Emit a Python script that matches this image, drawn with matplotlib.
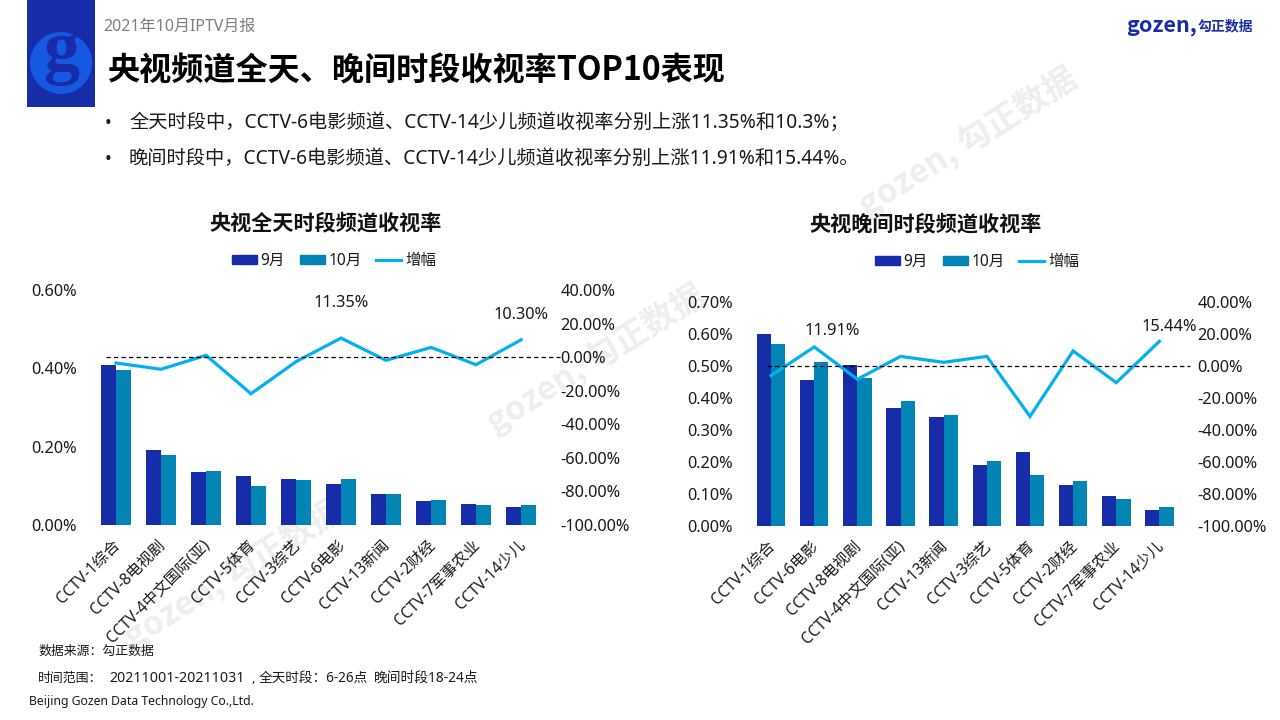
import numpy as np
import matplotlib
matplotlib.use("Agg")
import matplotlib.pyplot as plt
from matplotlib.patches import Circle, Patch
from matplotlib.lines import Line2D
from matplotlib.transforms import ScaledTranslation

plt.rcParams['font.family'] = ['Noto Sans', 'Noto Sans CJK SC', 'DejaVu Sans']
BOLD = ['Noto Sans CJK SC', 'DejaVu Sans']  # Noto Sans here has no bold face

W, H = 1280, 720
NAVY = '#172ca8'; TEAL = '#0285b5'; SKY = '#00b0f0'; TXT = '#1a1a1a'

# ---- all-day panel data
cats_day = ['CCTV-1综合', 'CCTV-8电视剧', 'CCTV-4中文国际(亚)', 'CCTV-5体育', 'CCTV-3综艺',
            'CCTV-6电影', 'CCTV-13新闻', 'CCTV-2财经', 'CCTV-7军事农业', 'CCTV-14少儿']
sep_day = [0.4085, 0.1915, 0.135, 0.125, 0.1175, 0.105, 0.079, 0.061, 0.0536, 0.046]
oct_day = [0.396, 0.179, 0.138, 0.0996, 0.115, 0.117, 0.079, 0.064, 0.051, 0.051]
chg_day = [-3.5, -7.2, 1.1, -21.8, -2.7, 11.35, -1.9, 5.8, -4.5, 10.30]

# ---- evening panel data
cats_eve = ['CCTV-1综合', 'CCTV-6电影', 'CCTV-8电视剧', 'CCTV-4中文国际(亚)', 'CCTV-13新闻',
            'CCTV-3综艺', 'CCTV-5体育', 'CCTV-2财经', 'CCTV-7军事农业', 'CCTV-14少儿']
sep_eve = [0.60, 0.456, 0.503, 0.369, 0.34, 0.19, 0.231, 0.128, 0.094, 0.05]
oct_eve = [0.569, 0.5125, 0.4625, 0.39, 0.347, 0.203, 0.159, 0.14, 0.084, 0.059]
chg_eve = [-6.0, 11.91, -8.3, 6.0, 2.3, 6.0, -31.5, 9.4, -10.4, 15.44]

ticks_day = [0, 0.2, 0.4, 0.6]
ticks_eve = [0, 0.1, 0.2, 0.3, 0.4, 0.5, 0.6, 0.7]
ticks_chg = [-100, -80, -60, -40, -20, 0, 20, 40]

bullet_1 = '全天时段中，CCTV-6电影频道、CCTV-14少儿频道收视率分别上涨11.35%和10.3%；'
bullet_2 = '晚间时段中，CCTV-6电影频道、CCTV-14少儿频道收视率分别上涨11.91%和15.44%。'

fig = plt.figure(figsize=(12.8, 7.2), dpi=100, facecolor='white')


def px_text(x, y, s, **kw):
    # pixel coords measured from the top left of the slide
    kw.setdefault('va', 'center')
    kw.setdefault('color', TXT)
    return fig.text(x / W, 1 - y / H, s, **kw)


# ---- watermarks sit underneath everything
for wx, wy in [(128, 640), (490, 425), (862, 208)]:
    px_text(wx, wy, 'gozen, 勾正数据', fontsize=24, fontweight='bold', family=BOLD, color='#eeeeee',
            rotation=32, rotation_mode='anchor', ha='left', va='center', zorder=-5)


def draw_panel(rect, cats, sep, oct_, chg, yticks, ymax, dash_x, labels, title_xy, legend_xy):
    left, top, right, bottom = rect
    ax = fig.add_axes([left / W, 1 - bottom / H, (right - left) / W, (bottom - top) / H])
    ax.patch.set_alpha(0)
    x = np.arange(len(cats))
    bw = 0.33
    ax.bar(x - bw / 2, sep, bw, color=NAVY)
    ax.bar(x + bw / 2, oct_, bw, color=TEAL)
    ax.set_xlim(-0.5, len(cats) - 0.5)
    ax.set_ylim(0, ymax)
    ax.set_yticks(yticks)
    ax.set_yticklabels([f'{t:.2f}%' for t in yticks], fontsize=11.8, color=TXT)
    ax.set_xticks(x)
    ax.set_xticklabels(cats, rotation=45, ha='right', rotation_mode='anchor', fontsize=11.2, color=TXT)
    ax.tick_params(axis='y', length=0, pad=12)
    ax.tick_params(axis='x', length=0, pad=5)
    # nudge the slanted labels a few pixels down and left
    nudge = ScaledTranslation(-4 / 100, -5 / 100, fig.dpi_scale_trans)
    for lab in ax.get_xticklabels():
        lab.set_transform(lab.get_transform() + nudge)
    for s in ax.spines.values():
        s.set_visible(False)

    ax2 = ax.twinx()
    ax2.patch.set_alpha(0)
    ax2.plot(x, chg, color=SKY, lw=2.3, solid_joinstyle='miter')
    ax2.hlines(0, dash_x[0], dash_x[1], colors='black', linestyles=(0, (3.5, 2.5)), lw=0.9, clip_on=False)
    ax2.set_ylim(-100, 40)
    ax2.set_yticks(ticks_chg)
    ax2.set_yticklabels([f'{t:.2f}%' for t in ticks_chg], fontsize=11.8, color=TXT)
    ax2.tick_params(axis='y', length=0, pad=12)
    for s in ax2.spines.values():
        s.set_visible(False)

    for i, dx, dy in labels:
        ax2.annotate(f'{chg[i]:.2f}%', (x[i], chg[i]), xytext=(dx, dy), textcoords='offset pixels',
                     ha='center', va='center', fontsize=11.8, color=TXT, annotation_clip=False)

    px_text(title_xy[0], title_xy[1], title_xy[2], fontsize=15.2, fontweight='bold', family=BOLD,
            ha='center', color='#111111')
    handles = [Patch(color=NAVY, label='9月'), Patch(color=TEAL, label='10月'),
               Line2D([], [], color=SKY, lw=2.3, label='增幅')]
    fig.legend(handles=handles, loc='center', bbox_to_anchor=(legend_xy[0] / W, 1 - legend_xy[1] / H),
               ncol=3, frameon=False, fontsize=11.2, handlelength=1.6, handleheight=0.6,
               handletextpad=0.25, columnspacing=0.95, labelcolor=TXT)


draw_panel((93.5, 290, 543.5, 525), cats_day, sep_day, oct_day, chg_day, ticks_day, 0.6,
           (-0.22, 9.87), [(5, 0, 35), (9, 0, 25)], (326, 223, '央视全天时段频道收视率'), (334, 261))
draw_panel((749.5, 302, 1181, 526), cats_eve, sep_eve, oct_eve, chg_eve, ticks_eve, 0.7,
           (-0.09, 9.72), [(1, 18, 16), (9, 10, 14)], (926, 224, '央视晚间时段频道收视率'), (977, 262))

# ---- header block
logo_ax = fig.add_axes([27 / W, 1 - 107 / H, 68 / W, 107 / H], facecolor=NAVY)
logo_ax.set_xlim(27, 95); logo_ax.set_ylim(107, 0)
logo_ax.set_xticks([]); logo_ax.set_yticks([])
for s in logo_ax.spines.values():
    s.set_visible(False)
logo_ax.add_patch(Circle((61, 63), 31, facecolor='#1658e0', edgecolor='none'))
logo_ax.text(61, 54, 'g', fontsize=52, fontweight='bold', family='Liberation Serif',
             color=NAVY, ha='center', va='center')

px_text(103, 27, '2021年10月IPTV月报', fontsize=11.5, color='#7f7f7f')
px_text(107, 71, '央视频道全天、晚间时段收视率TOP10表现', fontsize=23.1, fontweight='bold', family=BOLD, color='black')
px_text(105, 123, '•', fontsize=13)
px_text(129, 123, bullet_1, fontsize=13.85)
px_text(105, 159, '•', fontsize=13)
px_text(129, 159, bullet_2, fontsize=13.85)

px_text(1126, 26, 'gozen,', fontsize=15.5, fontweight='bold', family=BOLD, color=NAVY)
px_text(1198, 26, '勾正数据', fontsize=10, fontweight='bold', family=BOLD, color=NAVY)

# ---- footer
px_text(38, 651, '数据来源：勾正数据', fontsize=9.3)
px_text(38, 678, '时间范围：', fontsize=9.3)
px_text(109, 678, '20211001-20211031', fontsize=10.2)
px_text(251, 678, ',', fontsize=9.3)
px_text(259, 678, '全天时段：6-26点', fontsize=9.8)
px_text(374, 678, '晚间时段18-24点', fontsize=9.9)
px_text(29, 701, 'Beijing Gozen Data Technology Co.,Ltd.', fontsize=8.8)

fig.savefig('out.png', dpi=100)
